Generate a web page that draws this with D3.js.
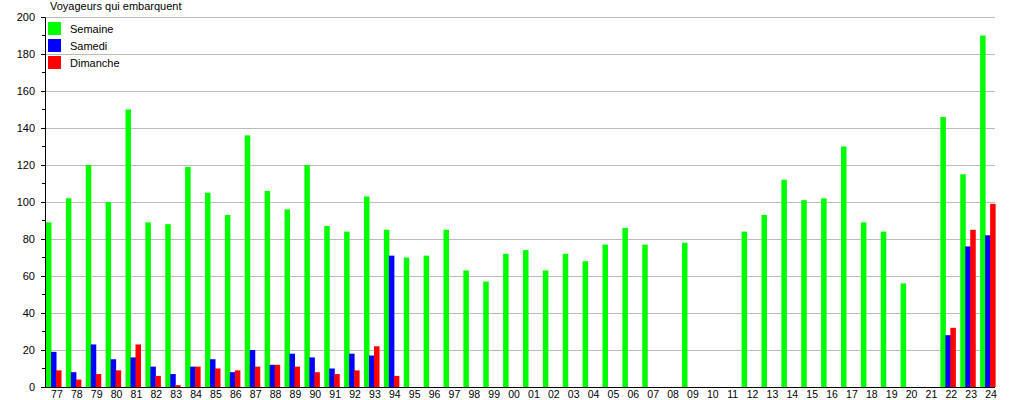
<!DOCTYPE html>
<html>
<head>
<meta charset="utf-8">
<script src="https://cdn.jsdelivr.net/npm/d3@7"></script>
<style>
  body { margin: 0; background: #fff; }
  text { font-family: "Liberation Sans", Arial, sans-serif; }
</style>
</head>
<body>
<div id="visualization"></div>
<script>
// data
var years = ["77","78","79","80","81","82","83","84","85","86","87","88","89","90","91","92","93","94",
             "95","96","97","98","99","00","01","02","03","04","05","06","07","08","09","10","11",
             "12","13","14","15","16","17","18","19","20","21","22","23","24"];
var semaine = [89,102,120,100,150,89,88,119,105,93,136,106,96,120,87,84,103,85,
               70,71,85,63,57,72,74,63,72,68,77,86,77,null,78,null,null,
               84,93,112,101,102,130,89,84,56,null,146,115,190];
var samedi = [19,8,23,15,16,11,7,11,15,8,20,12,18,16,10,18,17,71,
              null,null,null,null,null,null,null,null,null,null,null,null,null,null,null,null,null,
              null,null,null,null,null,null,null,null,null,null,28,76,82];
var dimanche = [9,4,7,9,23,6,1,11,10,9,11,12,11,8,7,9,22,6,
                null,null,null,null,null,null,null,null,null,null,null,null,null,null,null,null,null,
                null,null,null,null,null,null,null,null,null,null,32,85,99];
var yTicks = [0,20,40,60,80,100,120,140,160,180,200];
var seriesNames = ["Semaine", "Samedi", "Dimanche"];
var seriesColors = ["#00ff00", "#0000ff", "#ff0000"];

var width = 1015, height = 400;

var svg = d3.select("#visualization")
    .append("svg")
    .attr("width", width)
    .attr("height", height);

var x = d3.scaleBand().domain(years).range([46, 1000]);
var y = d3.scaleLinear().domain([0, 200]).range([387, 17]);

// grid
svg.append("g")
    .selectAll("line")
    .data(yTicks.slice(1))
    .enter().append("line")
    .attr("x1", 45).attr("x2", 995)
    .attr("y1", function(d) { return y(d); })
    .attr("y2", function(d) { return y(d); })
    .attr("stroke", "#bbbbbb")
    .attr("stroke-width", 1)
    .attr("shape-rendering", "crispEdges");

// bars
var all = [semaine, samedi, dimanche];
var barStep = 5, barW = 5.5;
all.forEach(function(vals, si) {
    svg.append("g")
        .selectAll("rect")
        .data(years.map(function(yr, i) { return {yr: yr, v: vals[i]}; })
            .filter(function(d) { return d.v != null; }))
        .enter().append("rect")
        .attr("x", function(d) { return x(d.yr) + si * barStep; })
        .attr("width", barW)
        .attr("y", function(d) { return y(d.v); })
        .attr("height", function(d) { return y(0) - y(d.v); })
        .attr("fill", seriesColors[si]);
});

// y axis
var yAxis = svg.append("g")
    .attr("transform", "translate(45,0)")
    .call(d3.axisLeft(y).tickValues(yTicks).tickSize(4).tickPadding(6));
yAxis.select(".domain").attr("stroke", "#000");
yAxis.selectAll("text").attr("font-size", "11px").attr("font-family", "Liberation Sans, Arial, sans-serif");

// minor ticks
svg.append("g")
    .selectAll("line")
    .data(d3.range(10, 200, 20))
    .enter().append("line")
    .attr("x1", 42).attr("x2", 45)
    .attr("y1", function(d) { return y(d); })
    .attr("y2", function(d) { return y(d); })
    .attr("stroke", "#000")
    .attr("shape-rendering", "crispEdges");

// x baseline + labels
svg.append("line")
    .attr("x1", 45).attr("x2", 995)
    .attr("y1", y(0)).attr("y2", y(0))
    .attr("stroke", "#000")
    .attr("shape-rendering", "crispEdges");

var xAxis = svg.append("g")
    .attr("transform", "translate(1," + y(0) + ")")
    .call(d3.axisBottom(x).tickSize(0).tickPadding(3));
xAxis.select(".domain").remove();
xAxis.selectAll("text")
    .attr("font-size", "10.5px")
    .attr("fill", "#000")
    .attr("y", 10.5)
    .attr("dy", null)
    .attr("font-family", "Liberation Sans, Arial, sans-serif");

// title
svg.append("text")
    .attr("x", 50)
    .attr("y", 10)
    .attr("font-size", "11px")
    .attr("fill", "#000")
    .text("Voyageurs qui embarquent");

// legend
var legend = svg.append("g")
    .selectAll("g")
    .data(seriesNames)
    .enter().append("g")
    .attr("transform", function(d, i) { return "translate(48," + (22 + i * 17) + ")"; });
legend.append("rect")
    .attr("width", 13).attr("height", 13)
    .attr("fill", function(d, i) { return seriesColors[i]; });
legend.append("text")
    .attr("x", 22).attr("y", 10.5)
    .attr("font-size", "11px")
    .attr("fill", "#000")
    .text(function(d) { return d; });
</script>
</body>
</html>
